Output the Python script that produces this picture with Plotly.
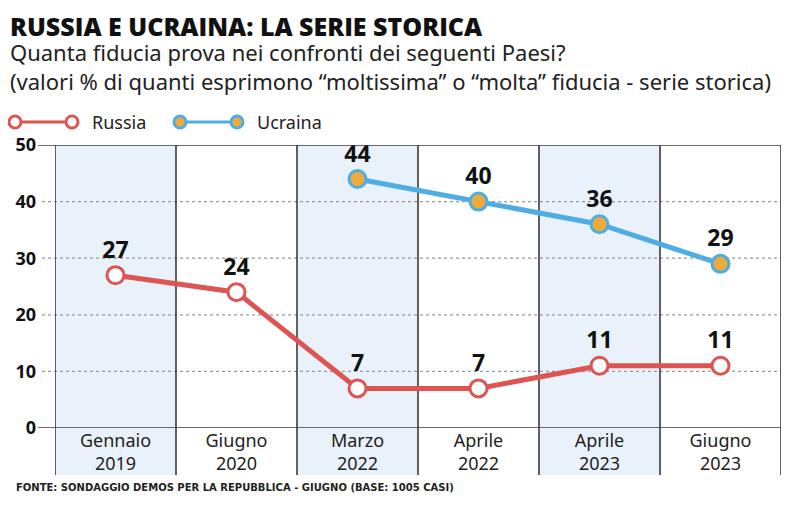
import plotly.graph_objects as go

categories = ["Gennaio 2019", "Giugno 2020", "Marzo 2022", "Aprile 2022", "Aprile 2023", "Giugno 2023"]
russia = [27, 24, 7, 7, 11, 11]
ucraina = [None, None, 44, 40, 36, 29]
y_ticks = [0, 10, 20, 30, 40, 50]
shaded_cols = [0, 2, 4]

RED = "#dd5552"
BLUE = "#4eaee4"
ORANGE = "#eeaa3a"
SHADE = "#e9f1fa"
DARK = "#3a3a3a"

# page body has an 8px margin; size the figure so that page pixels match the reference
OFF = 8
W, H = 800 - OFF, 521 - OFF
def px_x(p): return (p - OFF) / W
def px_y(p): return (H - (p - OFF)) / H

y_bot = px_y(475)
y_top = px_y(145)

fig = go.Figure()

fig.add_trace(go.Scatter(
    x=categories, y=russia, mode="lines+markers+text", name="Russia",
    line=dict(color=RED, width=5),
    marker=dict(size=17, color="white", line=dict(color=RED, width=3)),
    text=[str(v) for v in russia], textposition="top center",
    textfont=dict(family="Open Sans", size=23, color="#111", weight="bold"),
    cliponaxis=False, showlegend=False))

fig.add_trace(go.Scatter(
    x=categories, y=ucraina, mode="lines+markers+text", name="Ucraina",
    line=dict(color=BLUE, width=5),
    marker=dict(size=17, color=ORANGE, line=dict(color=BLUE, width=3)),
    text=[str(v) if v is not None else "" for v in ucraina], textposition="top center",
    textfont=dict(family="Open Sans", size=23, color="#111", weight="bold"),
    cliponaxis=False, showlegend=False))

shapes = []
for c in shaded_cols:
    shapes.append(dict(type="rect", xref="x", yref="paper", x0=c - 0.5, x1=c + 0.5,
                       y0=y_bot, y1=y_top, fillcolor=SHADE, line=dict(width=0), layer="below"))
for v in y_ticks:
    if v in (0, 50):
        shapes.append(dict(type="line", xref="paper", yref="y", x0=px_x(38), x1=px_x(781),
                           y0=v, y1=v, line=dict(color=DARK, width=1.6), layer="above"))
    else:
        shapes.append(dict(type="line", xref="paper", yref="y", x0=px_x(42), x1=px_x(781),
                           y0=v, y1=v, line=dict(color="#9a9a9a", width=1.2, dash="dot"), layer="below"))
for k in range(len(categories) + 1):
    shapes.append(dict(type="line", xref="x", yref="paper", x0=k - 0.5, x1=k - 0.5,
                       y0=y_bot, y1=y_top, line=dict(color=DARK, width=1.6), layer="below"))

# custom legend
legend_items = [("Russia", RED, "white", 15), ("Ucraina", BLUE, ORANGE, 180)]
annotations = []
ly = px_y(122)
for name, lc, fc, x0 in legend_items:
    shapes.append(dict(type="line", xref="paper", yref="paper", x0=px_x(x0), x1=px_x(x0 + 57),
                       y0=ly, y1=ly, line=dict(color=lc, width=3)))
    for cx in (x0, x0 + 57):
        shapes.append(dict(type="circle", xref="paper", yref="paper",
                           x0=px_x(cx - 6), x1=px_x(cx + 6), y0=px_y(128), y1=px_y(116),
                           fillcolor=fc, line=dict(color=lc, width=3)))
    annotations.append(dict(text=name, xref="paper", yref="paper", x=px_x(x0 + 75), y=ly,
                            xanchor="left", yanchor="middle", showarrow=False,
                            font=dict(family="Noto Sans", size=18, color="#222")))

annotations.append(dict(text="RUSSIA E UCRAINA: LA SERIE STORICA", xref="paper", yref="paper",
                        x=px_x(8), y=px_y(26), xanchor="left", yanchor="middle", showarrow=False,
                        font=dict(family="Open Sans", size=25, color="#111", weight=800)))
annotations.append(dict(text="Quanta fiducia prova nei confronti dei seguenti Paesi?<br>"
                             "(valori % di quanti esprimono “moltissima” o “molta” fiducia - serie storica)",
                        xref="paper", yref="paper", align="left",
                        x=px_x(8), y=px_y(66), xanchor="left", yanchor="middle", showarrow=False,
                        font=dict(family="Noto Sans", size=22, color="#222")))
annotations.append(dict(text="<b>FONTE: SONDAGGIO DEMOS PER LA REPUBBLICA - GIUGNO (BASE: 1005 CASI)</b>",
                        xref="paper", yref="paper",
                        x=px_x(14), y=px_y(487), xanchor="left", yanchor="middle", showarrow=False,
                        font=dict(family="DejaVu Sans", size=10, color="#222")))

fig.update_layout(
    width=W, height=H, margin=dict(l=0, r=0, t=0, b=0, autoexpand=False),
    paper_bgcolor="white", plot_bgcolor="rgba(0,0,0,0)",
    shapes=shapes, annotations=annotations, showlegend=False,
    xaxis=dict(domain=[px_x(55), px_x(781)], type="category", range=[-0.5, 5.5],
               tickvals=categories, ticktext=[c.replace(" ", "<br>") for c in categories],
               showgrid=False, zeroline=False, showline=False, ticks="", automargin=False,
               tickfont=dict(family="Noto Sans", size=18, color="#222"), fixedrange=True),
    yaxis=dict(domain=[px_y(428), px_y(145)], range=[0, 50], tickvals=y_ticks,
               showgrid=False, zeroline=False, showline=False, ticks="", automargin=False,
               ticklabelstandoff=18,
               tickfont=dict(family="Open Sans", size=18, color="#111", weight="bold"), fixedrange=True),
)

fig.write_html("out.html")
